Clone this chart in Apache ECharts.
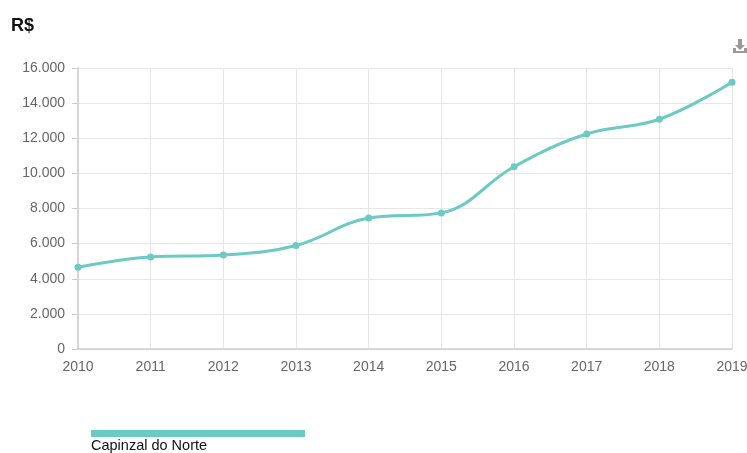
<!DOCTYPE html>
<html>
<head>
<meta charset="utf-8">
<script src="https://cdn.jsdelivr.net/npm/echarts@6/dist/echarts.min.js"></script>
<style>
  html, body { margin: 0; padding: 0; background: #fff; }
  #chart { width: 747px; height: 453px; }
</style>
</head>
<body>
<div id="chart"></div>
<script>
  const years = ['2010', '2011', '2012', '2013', '2014', '2015', '2016', '2017', '2018', '2019']
  const valores = [4660, 5240, 5350, 5890, 7460, 7750, 10380, 12240, 13080, 15190]
  const seriesName = 'Capinzal do Norte'
  const lineColor = '#6ccac4'

  const chart = echarts.init(document.getElementById('chart'))

  const fmt = v => String(v).replace(/\B(?=(\d{3})+(?!\d))/g, '.')

  chart.setOption({
    animation: false,
    title: {
      text: 'R$',
      left: 6,
      top: 12,
      textStyle: { color: '#111', fontSize: 18, fontWeight: 'bold', fontFamily: 'Liberation Sans' }
    },
    toolbox: {
      right: -15,
      top: 24,
      itemSize: 14,
      feature: {
        saveAsImage: {
          title: '',
          icon: 'path://M5,0 L9,0 L9,6 L12,6 L7,11 L2,6 L5,6 Z M0,9 L3,9 L3,12 L11,12 L11,9 L14,9 L14,14 L0,14 Z'
        }
      },
      iconStyle: { color: '#999', borderWidth: 0 }
    },
    // legend drawn as a wide bar with the name underneath
    legend: [
      {
        data: [seriesName],
        left: 86,
        top: 425,
        icon: 'rect',
        itemWidth: 214,
        itemHeight: 7,
        formatter: () => '',
        selectedMode: false
      },
      {
        data: [seriesName],
        left: 81,
        top: 433,
        icon: 'none',
        itemWidth: 0,
        itemHeight: 0,
        selectedMode: false,
        textStyle: { color: '#111', fontSize: 14.5, fontFamily: 'Liberation Sans' }
      }
    ],
    grid: {
      left: 78,
      right: 15,
      top: 68,
      bottom: 104,
      outerBoundsMode: 'none'
    },
    xAxis: {
      type: 'category',
      data: years,
      boundaryGap: false,
      axisLine: { lineStyle: { color: '#ccc', width: 1.5 } },
      axisTick: { show: false },
      axisLabel: { color: '#666', fontSize: 14, fontFamily: 'Liberation Sans', margin: 11 },
      splitLine: { show: true, lineStyle: { color: '#e6e6e6' } }
    },
    yAxis: {
      type: 'value',
      min: 0,
      max: 16000,
      interval: 2000,
      axisLine: { show: true, lineStyle: { color: '#ccc', width: 1.5 } },
      axisTick: { show: true, length: 6, lineStyle: { color: '#ccc' } },
      axisLabel: { color: '#666', fontSize: 14, fontFamily: 'Liberation Sans', margin: 13, formatter: fmt },
      splitLine: { lineStyle: { color: '#e6e6e6' } }
    },
    series: [{
      name: seriesName,
      type: 'line',
      data: valores,
      smooth: 0.4,
      symbol: 'circle',
      symbolSize: 7,
      itemStyle: { color: lineColor },
      lineStyle: { color: lineColor, width: 3 }
    }]
  })
</script>
</body>
</html>
